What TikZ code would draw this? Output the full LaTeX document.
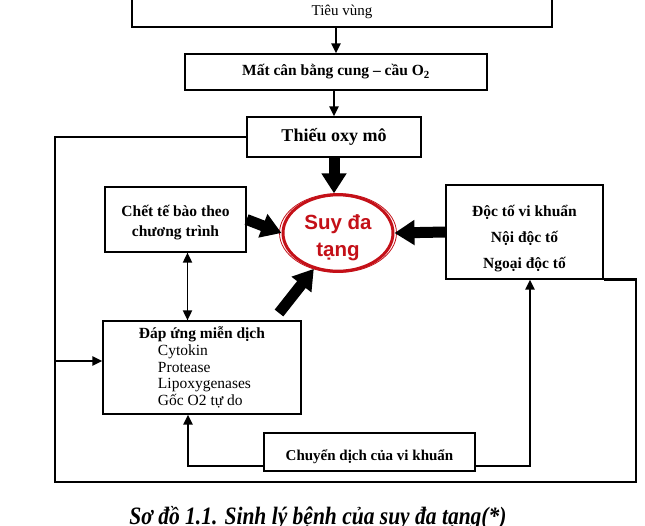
\documentclass[tikz,border=0pt]{standalone}
\usepackage{fontspec}
\setmainfont{Liberation Serif}
\newfontfamily\arialfont{Liberation Sans}
\usetikzlibrary{arrows.meta,shapes.geometric}
\definecolor{suyred}{RGB}{196,16,24}
\begin{document}
\begin{tikzpicture}[x=1pt,y=-1pt,
  box/.style={draw,line width=1.2pt,inner sep=0pt,align=center,font=\fontsize{15.5}{20}\selectfont\bfseries},
  arr/.style={line width=2.4pt,-{Triangle[length=10pt,width=9pt]}},
  dbl/.style={line width=1.8pt,{Triangle[length=10pt,width=9pt]}-{Triangle[length=10pt,width=9pt]}},
  loopline/.style={line width=2.8pt},
  feed/.style={line width=2.8pt,-{Triangle[length=10pt,width=9pt]}},
  fat/.style={line width=11pt,-{Triangle[length=20pt,width=24pt]}}]
  \clip (0,0) rectangle (645,525);
  \fill[white] (0,0) rectangle (645,525);

  \draw (342,11.5) node[box,minimum width=420pt,minimum height=31pt,font=\fontsize{15}{18}\selectfont] (Top) {Tiêu vùng};
  \draw (336,72) node[box,minimum width=302pt,minimum height=36pt] (Mat) {Mất cân bằng cung – cầu O\textsubscript{2}};
  \draw (334,137) node[box,minimum width=174pt,minimum height=40pt,font=\fontsize{18}{20}\selectfont\bfseries] (Thieu) {Thiếu oxy mô};
  \draw (175.5,219.5) node[box,minimum width=141pt,minimum height=65pt] (Chet) {\raisebox{-3pt}[\height][\depth]{\begin{tabular}{@{}c@{}}Chết tế bào theo\\chương trình\end{tabular}}};
  \draw (338,233) node[ellipse,draw=suyred,line width=3pt,minimum width=110pt,minimum height=71pt,inner sep=0pt,text=suyred,font=\arialfont\bfseries\fontsize{20.5}{27}\selectfont] (Suy) {\raisebox{-5pt}[\height][\depth]{\begin{tabular}{@{}c@{}}Suy đa\\tạng\end{tabular}}};
  \draw[suyred,line width=0.8pt] (Suy.center) ellipse (58.5pt and 39.5pt);
  \draw (524.5,232) node[box,minimum width=157pt,minimum height=94pt,font=\fontsize{15.5}{26}\selectfont\bfseries] (Doc) {\raisebox{-5pt}[\height][\depth]{\begin{tabular}{@{}c@{}}Độc tố vi khuẩn\\Nội độc tố\\Ngoại độc tố\end{tabular}}};
  \draw (202,367.5) node[box,minimum width=198pt,minimum height=93pt,align=left,font=\fontsize{15.5}{16.6}\selectfont] (Dap) {\textbf{Đáp ứng miễn dịch}\\\hspace*{19pt}Cytokin\\\hspace*{19pt}Protease\\\hspace*{19pt}Lipoxygenases\\\hspace*{19pt}Gốc O2 tự do};
  \draw (369.5,452) node[box,minimum width=211pt,minimum height=38pt,font=\fontsize{15}{18}\selectfont\bfseries] (Chuyen) {\raisebox{-5pt}[\height][\depth]{Chuyển dịch của vi khuẩn}};
  \draw (318,524) node[anchor=base,font=\fontsize{25}{28}\selectfont\bfseries\itshape] (Cap) {\scalebox{0.86}[1]{Sơ đồ 1.1. Sinh lý bệnh của suy đa tạng(*)}};

  \coordinate (Tail) at (279,313);
  \coordinate (LA) at (55,361);
  \coordinate (LB) at (55,482);
  \coordinate (RB) at (636,482);

  \draw[arr] (Top.south -| Mat.north) -- (Mat.north);
  \draw[arr] (Mat.south -| Thieu.north) -- (Thieu.north);
  \draw[fat] (Thieu.south) -- (Thieu.south |- Suy.north);
  \draw[fat] (Chet.east) -- (Suy.west);
  \draw[fat] (Doc.west) -- (Suy.east);
  \draw[fat] (Tail) -- (Suy.236);
  \draw[dbl] ([xshift=12pt]Chet.south) -- ([xshift=12pt]Chet.south |- Dap.north);
  \draw[loopline] (Thieu.west) -| (LB) -- (RB) |- (Doc.south east);
  \draw[arr] (LA) -- (LA -| Dap.west);
  \draw[feed] ([yshift=-14pt]Chuyen.west) -| ([xshift=-14pt]Dap.south);
  \draw[feed] ([yshift=-14pt]Chuyen.east) -| ([xshift=5.5pt]Doc.south);
\end{tikzpicture}
\end{document}
